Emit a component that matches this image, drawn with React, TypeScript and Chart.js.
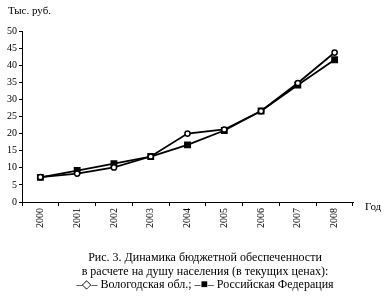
import React, { useEffect, useRef } from "react";
import { Chart, registerables } from "chart.js";

Chart.register(...registerables);

const years = ["2000", "2001", "2002", "2003", "2004", "2005", "2006", "2007", "2008"];
const vologda = [7.3, 8.3, 10.1, 13.3, 20.0, 21.2, 26.6, 34.8, 43.7];
const russia = [7.2, 9.2, 11.2, 13.3, 16.7, 20.9, 26.6, 34.2, 41.6];
const yTicks = [0, 5, 10, 15, 20, 25, 30, 35, 40, 45, 50];

const serif = "'Liberation Serif', 'Times New Roman', serif";

export default function App() {
  const ref = useRef<HTMLCanvasElement>(null);
  useEffect(() => {
    if (!ref.current) return;
    const chart = new Chart(ref.current, {
      type: "line",
      data: {
        labels: years,
        datasets: [
          {
            label: "Вологодская обл.",
            data: vologda,
            borderColor: "#000",
            borderWidth: 1.8,
            pointStyle: "circle",
            pointRadius: 2.6,
            pointBackgroundColor: "#fff",
            pointBorderColor: "#000",
            pointBorderWidth: 1.5,
            tension: 0,
          },
          {
            label: "Российская Федерация",
            data: russia,
            borderColor: "#000",
            borderWidth: 1.8,
            pointStyle: "rect",
            pointRadius: 3.6,
            pointBackgroundColor: "#000",
            pointBorderColor: "#000",
            tension: 0,
          },
        ],
      },
      options: {
        animation: false,
        responsive: false,
        maintainAspectRatio: false,
        layout: { padding: { left: 0, right: 35, top: 31, bottom: 0 } },
        plugins: { legend: { display: false }, tooltip: { enabled: false } },
        scales: {
          x: {
            offset: true,
            grid: { display: true, offset: true, drawOnChartArea: false, drawTicks: true, tickLength: 4, color: "#000" },
            border: { display: true, color: "#000", width: 1 },
            ticks: {
              color: "#000",
              font: { family: serif, size: 10 },
              maxRotation: 90,
              minRotation: 90,
              padding: 2,
              autoSkip: false,
            },
            afterFit: (s: any) => {
              s.height = 38;
            },
          },
          y: {
            min: 0,
            max: 50,
            afterBuildTicks: (s: any) => {
              s.ticks = yTicks.map((v) => ({ value: v }));
            },
            grid: { display: true, drawOnChartArea: false, drawTicks: true, tickLength: 3, color: "#000" },
            border: { display: true, color: "#000", width: 1 },
            ticks: { color: "#000", font: { family: serif, size: 10 }, padding: 2 },
            afterFit: (s: any) => {
              s.width = 22;
            },
          },
        },
      },
    });
    return () => chart.destroy();
  }, []);

  return (
    <div style={{ position: "fixed", left: 0, top: 0, width: 388, height: 296, background: "#fff", fontFamily: serif, color: "#000" }}>
      <canvas ref={ref} width={388} height={240} style={{ position: "absolute", left: 0, top: 0, width: 388, height: 240 }} />
      <div style={{ position: "absolute", left: 8, top: 4, fontSize: 11 }}>Тыс. руб.</div>
      <div style={{ position: "absolute", left: 365, top: 200, fontSize: 11 }}>Год</div>
      <div style={{ position: "absolute", left: 0, top: 251, width: 410, textAlign: "center", fontSize: 12, lineHeight: "13.5px" }}>
        <div>Рис. 3. Динамика бюджетной обеспеченности</div>
        <div>в расчете на душу населения (в текущих ценах):</div>
        <div>–◇– Вологодская обл.; –■– Российская Федерация</div>
      </div>
    </div>
  );
}
